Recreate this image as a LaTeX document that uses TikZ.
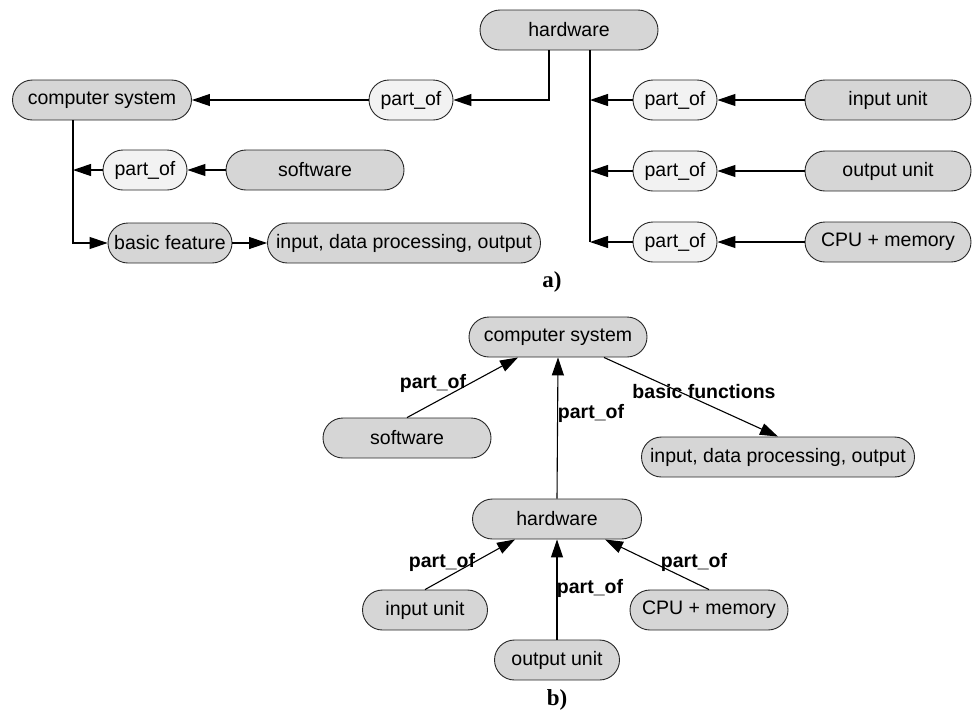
\documentclass[tikz,border=0pt]{standalone}
\usepackage{fontspec}
\setmainfont{Liberation Sans}
\newfontfamily\serifbf{Liberation Serif}
\usetikzlibrary{positioning, arrows.meta, shapes.misc, calc}
\definecolor{boxgray}{HTML}{D6D6D6}
\definecolor{relgray}{HTML}{F2F2F2}
\tikzset{
  concept/.style={rounded rectangle, draw=black!85, fill=boxgray, line width=0.9pt,
    minimum height=40pt, inner sep=0pt, font=\fontsize{19.5}{22}\selectfont},
  relation/.style={concept, fill=relgray, minimum width=84pt},
  rellabel/.style={font=\fontsize{19.5}{22}\selectfont\bfseries, inner sep=0pt},
  figlabel/.style={font=\fontsize{23}{26}\selectfont\serifbf\bfseries, inner sep=0pt},
}

\begin{document}
\begin{tikzpicture}[x=1pt, y=-1pt, line width=1.1pt, >={Triangle[length=18pt,width=12pt]}]
    \useasboundingbox (0,0) rectangle (976,716);

    % --- a) Concept nodes ---
    \node[concept, minimum width=178pt] (hwA) at (569,30) {hardware};
    \node[concept, minimum width=179pt] (csA) at (102,100) {computer system};
    \node[relation] (poHw) at (411,100) {part\_of};
    \node[relation] (poSw) at (145,170) {part\_of};
    \node[concept, minimum width=178pt] (swA) at (315,170) {software};
    \node[concept, minimum width=124pt] (bfA) at (170,243) {basic feature};
    \node[concept, minimum width=273pt] (ioA) at (404,243) {input, data processing, output};

    % Right column: hardware parts
    \foreach \y/\name/\txt in {100/iu/input unit, 171/ou/output unit, 242/cpu/CPU + memory} {
        \node[relation] (po\name) at (675,\y) {part\_of};
        \node[concept, minimum width=166pt] (\name A) at (888,\y) {\txt};
    }

    % --- a) Connectors ---
    % hardware -> part_of -> computer system
    \coordinate (hwL) at ([xshift=-20pt]hwA.south);
    \draw[->] (hwL) |- (poHw.east);
    \draw[->] (poHw.west) -- (csA.east);

    % hardware spine with its three parts
    \coordinate (hwR) at ([xshift=21pt]hwA.south);
    \draw (hwR) -- (hwR |- pocpu);
    \foreach \name in {iu, ou, cpu} {
        \draw[->] (po\name.west) -- (po\name.west -| hwR);
        \draw[->] (\name A.west) -- (po\name.east);
    }

    % computer system spine
    \coordinate (csS) at ([xshift=-29pt]csA.south);
    \draw[->] (csS) |- (bfA.west);
    \draw[->] (poSw.west) -- (poSw.west -| csS);
    \draw[->] (swA.west) -- (poSw.east);
    \draw[->] (bfA.east) -- (ioA.west);

    \node[figlabel] (labA) at (552,282) {a)};

    % --- b) Concept nodes ---
    \node[concept, minimum width=178pt] (csB) at (558,337) {computer system};
    \node[concept, minimum width=168pt] (swB) at (407,438) {software};
    \node[concept, minimum width=273pt] (ioB) at (778,457) {input, data processing, output};
    \node[concept, minimum width=169pt] (hwB) at (557,519) {hardware};
    \node[concept, minimum width=125pt] (iuB) at (425,610) {input unit};
    \node[concept, minimum width=125pt] (ouB) at (557,660) {output unit};
    \node[concept, minimum width=158pt] (cpuB) at (709,610) {CPU + memory};

    % --- b) Connectors ---
    \draw[->] (swB.north) -- ([xshift=-40pt]csB.south);
    \draw[->] (hwB.north) -- (csB.south);
    \draw[->] ([xshift=46pt]csB.south) -- (ioB.north);
    \draw[->] (iuB.north) -- ([xshift=-42pt]hwB.south);
    \draw[->] (ouB.north) -- (hwB.south);
    \draw[->] (cpuB.north) -- ([xshift=48pt]hwB.south);

    % Edge labels
    \node[rellabel] (lSw) at (433,383) {part\_of};
    \node[rellabel] (lHw) at (591,413) {part\_of};
    \node[rellabel] (lIo) at (704,392) {basic functions};
    \node[rellabel] (lIu) at (442,562) {part\_of};
    \node[rellabel] (lOu) at (590,588) {part\_of};
    \node[rellabel] (lCpu) at (694,562) {part\_of};

    \node[figlabel] (labB) at (557,700) {b)};

\end{tikzpicture}
\end{document}
